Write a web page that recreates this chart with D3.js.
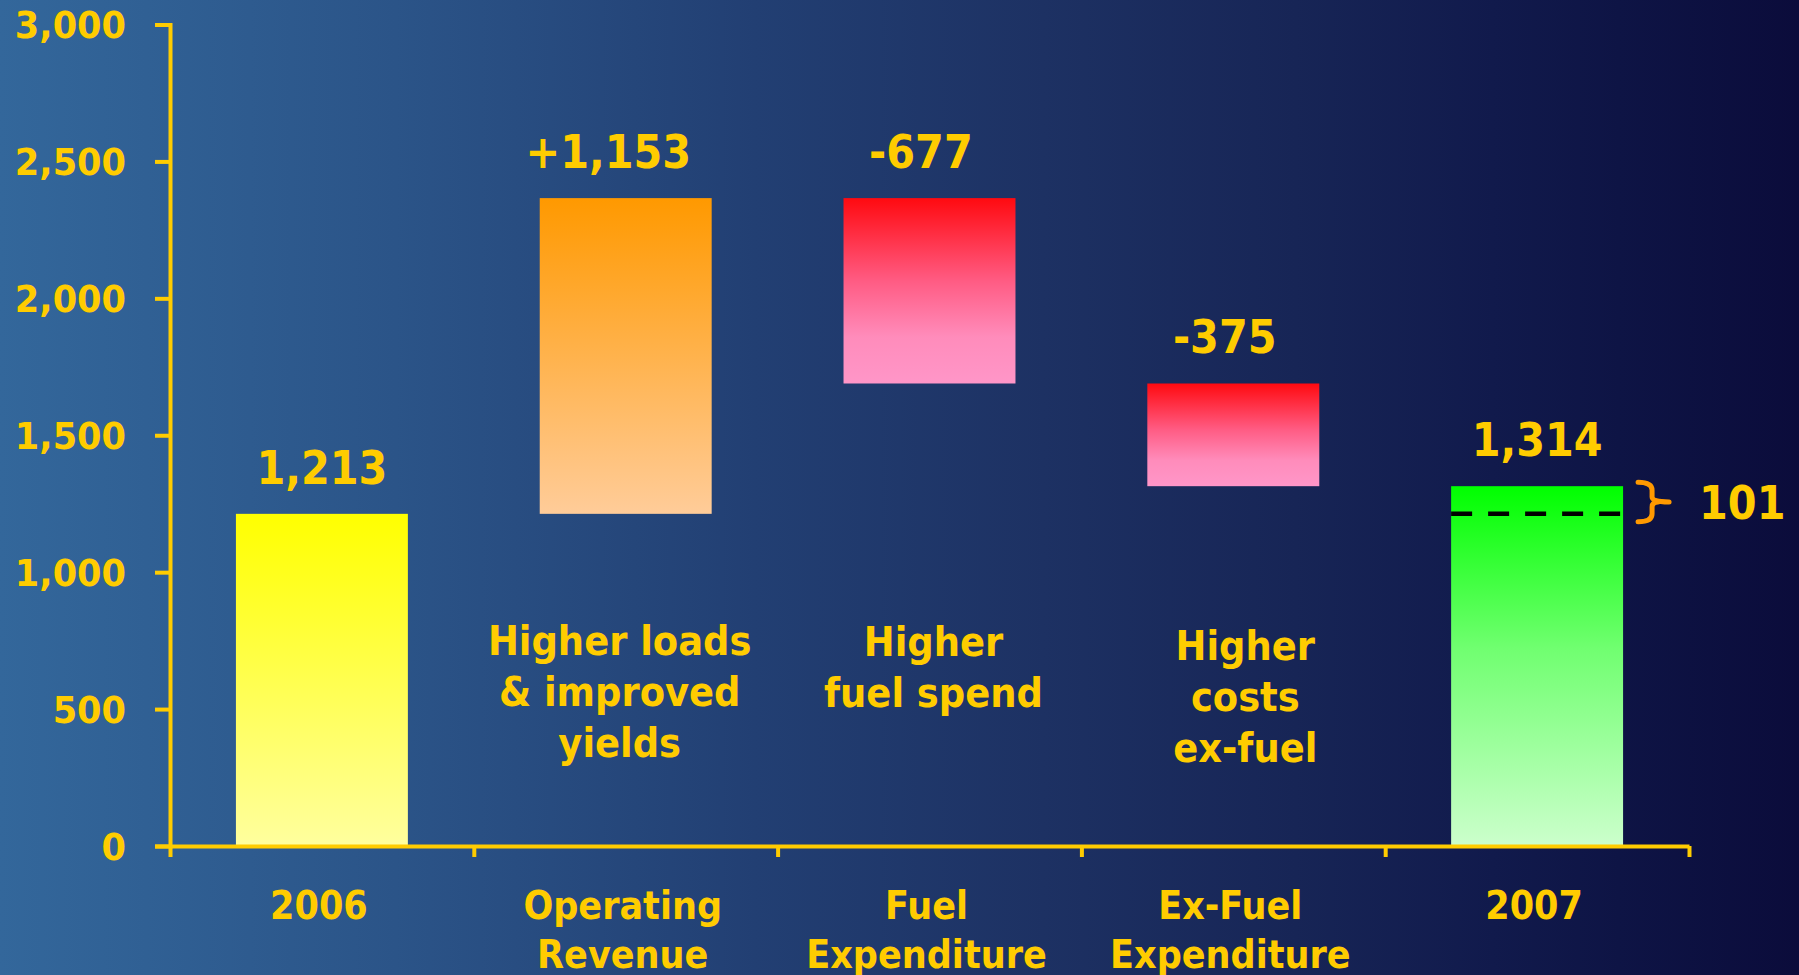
<!DOCTYPE html>
<html>
<head>
<meta charset="utf-8">
<script src="https://cdn.jsdelivr.net/npm/d3@7"></script>
<style>
  html, body { margin: 0; padding: 0; background: #0b0c3c; overflow: hidden; }
  svg { display: block; }
</style>
</head>
<body>
<script>
// ---------------- data ----------------
const categories   = ["2006", "Operating Revenue", "Fuel Expenditure", "Ex-Fuel Expenditure", "2007"];
const categoryLines = [["2006"], ["Operating", "Revenue"], ["Fuel", "Expenditure"], ["Ex-Fuel", "Expenditure"], ["2007"]];
const values       = [1213, 1153, -677, -375, 1314];
const kinds        = ["total", "delta", "delta", "delta", "total"];
const valueLabels  = ["1,213", "+1,153", "-677", "-375", "1,314"];
const notes        = [[], ["Higher loads", "& improved", "yields"], ["Higher", "fuel spend"], ["Higher", "costs", "ex-fuel"], []];
const yTicks       = [0, 500, 1000, 1500, 2000, 2500, 3000];
const previousTotal = 1213;
const differenceLabel = "101";
const barColors = [
  ["#ffff00", "#ffff9e"],
  ["#ff9900", "#ffcc99"],
  ["#ff0a10", "#ff96c8"],
  ["#ff0a10", "#ff96c8"],
  ["#00ff00", "#ccffcc"]
];

// ---------------- layout ----------------
const W = 1799, H = 975;
const X0 = 170, X1 = 1689, Y0 = 846, Ytop = 24.5;
const GOLD = "#ffcc00";
const noteShift = { 1: [-6, 0], 2: [4, 1], 3: [12, 5] };

const svg = d3.select("body").append("svg")
  .attr("width", W).attr("height", H)
  .attr("font-family", "'DejaVu Sans', Verdana, sans-serif")
  .attr("font-weight", "bold");

const defs = svg.append("defs");
const bg = defs.append("linearGradient").attr("id", "bg").attr("x1", 0).attr("y1", 0).attr("x2", 1).attr("y2", 0);
[[0, "#33679b"], [0.22, "#2b5488"], [0.42, "#223f73"], [0.58, "#1d3163"], [0.72, "#172556"], [0.83, "#111a4c"], [0.9, "#0e1445"], [1, "#0b0c3b"]]
  .forEach(([o, c]) => bg.append("stop").attr("offset", o).attr("stop-color", c));
svg.append("rect").attr("width", W).attr("height", H).attr("fill", "url(#bg)");

barColors.forEach((c, i) => {
  const g = defs.append("linearGradient").attr("id", "bar" + i).attr("x1", 0).attr("y1", 0).attr("x2", 0).attr("y2", 1);
  if (i === 2 || i === 3) {
    g.append("stop").attr("offset", 0).attr("stop-color", c[0]);
    g.append("stop").attr("offset", 0.45).attr("stop-color", "#ff5c84");
    g.append("stop").attr("offset", 0.75).attr("stop-color", "#ff8cbb");
    g.append("stop").attr("offset", 1).attr("stop-color", c[1]);
  } else if (i === 4) {
    g.append("stop").attr("offset", 0).attr("stop-color", c[0]);
    g.append("stop").attr("offset", 0.45).attr("stop-color", "#70ff70");
    g.append("stop").attr("offset", 1).attr("stop-color", c[1]);
  } else {
    g.append("stop").attr("offset", 0).attr("stop-color", c[0]);
    g.append("stop").attr("offset", 1).attr("stop-color", c[1]);
  }
});

// scales
const y = d3.scaleLinear().domain([0, 3000]).range([Y0, Ytop]);
const xBand = d3.scaleBand().domain(categories).range([X0, X1]).padding(0);
const xBar = d3.scaleBand().domain(categories).range([X0, X1]).paddingInner(0.434).paddingOuter(0.217);
const xEdge = d3.scaleLinear().domain([0, categories.length]).range([X0, X1]);

// waterfall
let run = 0;
const bars = values.map((v, i) => {
  let a, b;
  if (kinds[i] === "total") { a = 0; b = v; run = v; }
  else { a = run; b = run + v; run = b; }
  return { cat: categories[i], lo: Math.min(a, b), hi: Math.max(a, b), i };
});

function addText(g, str, x, yy, size, sx, anchor) {
  return g.append("text")
    .attr("transform", `translate(${x},${yy}) scale(${sx},1)`)
    .attr("text-anchor", anchor)
    .attr("font-size", size)
    .attr("fill", GOLD)
    .text(str);
}

// bars
svg.append("g").selectAll("rect").data(bars).join("rect")
  .attr("x", d => xBar(d.cat))
  .attr("width", xBar.bandwidth())
  .attr("y", d => y(d.hi))
  .attr("height", d => y(d.lo) - y(d.hi))
  .attr("fill", d => `url(#bar${d.i})`);

// dashed previous-year level on 2007 bar
const last = categories[categories.length - 1];
svg.append("line")
  .attr("x1", xBar(last)).attr("x2", xBar(last) + xBar.bandwidth())
  .attr("y1", y(previousTotal)).attr("y2", y(previousTotal))
  .attr("stroke", "#000").attr("stroke-width", 4.5).attr("stroke-dasharray", "21,16");

// brace and difference label
const bx = xBar(last) + xBar.bandwidth();
const bt = y(values[values.length - 1]) - 4, bb = y(previousTotal) + 8, bm = (bt + bb) / 2;
const bx0 = bx + 15, bx1 = bx + 29, bxt = bx + 46;
svg.append("path")
  .attr("d", `M${bx0},${bt} Q${bx1},${bt} ${bx1},${bt + 8} L${bx1},${bm - 5} Q${bx1},${bm} ${bxt},${bm} ` +
             `M${bx1 + 6},${bm} Q${bx1},${bm} ${bx1},${bm + 5} L${bx1},${bb - 8} Q${bx1},${bb} ${bx0},${bb}`)
  .attr("fill", "none").attr("stroke", "#ff9900").attr("stroke-width", 5).attr("stroke-linecap", "round");
addText(svg, differenceLabel, bx + 76, bm + 17, 46, 0.9, "start");

// value labels (digits centred on bar, sign hanging left)
const vl = svg.append("g");
bars.forEach((d, i) => {
  const cx = xBar(d.cat) + xBar.bandwidth() / 2;
  const sx = 0.9;
  const t = addText(vl, valueLabels[i], 0, y(d.hi) - 30, 46, sx, "start");
  const L = t.node().getComputedTextLength();
  const hasSign = /^[+\-]/.test(valueLabels[i]);
  const s = hasSign ? t.node().getSubStringLength(0, 1) : 0;
  const x0 = cx - sx * (L + s) / 2;
  t.attr("transform", `translate(${x0},${y(d.hi) - 30}) scale(${sx},1)`);
});

// notes under floating bars
const ng = svg.append("g");
notes.forEach((lines, i) => {
  const sh = noteShift[i] || [0, 0];
  const cx = xBand(categories[i]) + xBand.bandwidth() / 2 + sh[0];
  lines.forEach((ln, k) => addText(ng, ln, cx, 655 + sh[1] + k * 51, 41, 0.9, "middle"));
});

// axes
const yAxis = svg.append("g").attr("transform", `translate(${X0},0)`)
  .call(d3.axisLeft(y).tickValues(yTicks).tickSize(15).tickSizeOuter(15).tickFormat(""));
const xAxis = svg.append("g").attr("transform", `translate(0,${Y0})`)
  .call(d3.axisBottom(xEdge).tickValues(d3.range(categories.length + 1)).tickSize(11).tickSizeOuter(0).tickFormat(""));
[yAxis, xAxis].forEach(a => {
  a.selectAll("path, line").attr("stroke", GOLD).attr("stroke-width", 4);
});

// y tick labels
const yl = svg.append("g");
yTicks.forEach(v => addText(yl, d3.format(",")(v), 126, y(v) + 13.5, 37, 0.95, "end"));

// category labels
const cl = svg.append("g");
categoryLines.forEach((lines, i) => {
  const cx = xBand(categories[i]) + xBand.bandwidth() / 2 - 3;
  lines.forEach((ln, k) => addText(cl, ln, cx, 919 + k * 48.5, 39, 0.9, "middle"));
});
</script>
</body>
</html>
